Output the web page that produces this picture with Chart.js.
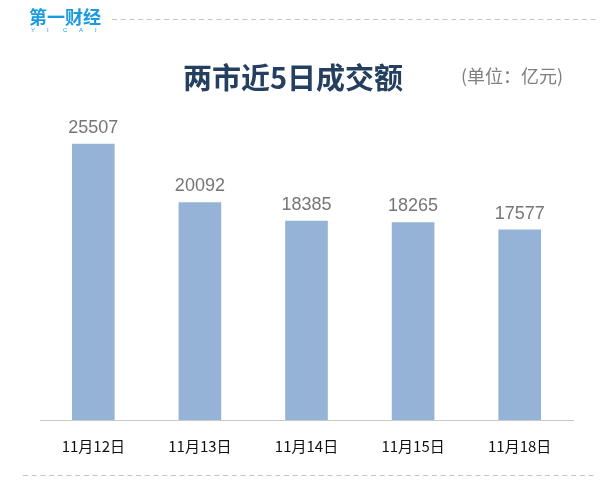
<!DOCTYPE html>
<html lang="zh">
<head>
    <meta charset="UTF-8">
    <title>两市近5日成交额</title>
    <script src="https://cdn.jsdelivr.net/npm/chart.js"></script>
    <style>
        html, body { margin: 0; padding: 0; background: #fff; }
        #wrap { width: 616px; height: 490px; }
    </style>
</head>
<body>
    <div id="wrap"><canvas id="chartVolumen"></canvas></div>

    <script>
        // 数据
        const fechas = ['11月12日', '11月13日', '11月14日', '11月15日', '11月18日'];
        const montos = [25507, 20092, 18385, 18265, 17577];
        const titulo = '两市近5日成交额';
        const unidad = '(单位：亿元)';

        const cjk = '"Noto Sans CJK SC", "Microsoft YaHei", sans-serif';

        // logo, titulo, lineas punteadas y etiquetas de valor
        const decoracion = {
            id: 'decoracion',
            afterDraw(chart) {
                const ctx = chart.ctx;
                ctx.save();

                // logo
                ctx.fillStyle = '#1a9be0';
                ctx.font = 'bold 18px ' + cjk;
                ctx.textBaseline = 'middle';
                ctx.textAlign = 'left';
                ctx.fillText('第一财经', 29, 17);
                ctx.font = '6px "Liberation Sans", Arial, sans-serif';
                const letras = 'YICAI';
                for (let i = 0; i < letras.length; i++) {
                    ctx.fillText(letras[i], 31 + i * 16, 30);
                }

                // lineas punteadas
                ctx.strokeStyle = '#c4c4c4';
                ctx.lineWidth = 1;
                ctx.setLineDash([5, 3.7]);
                ctx.beginPath();
                ctx.moveTo(112, 19.5);
                ctx.lineTo(596, 19.5);
                ctx.moveTo(23, 475.5);
                ctx.lineTo(596, 475.5);
                ctx.stroke();
                ctx.setLineDash([]);

                // titulo
                ctx.fillStyle = '#243f60';
                ctx.font = 'bold 29px ' + cjk;
                ctx.textAlign = 'center';
                ctx.fillText(titulo, 293, 78);

                ctx.fillStyle = '#7f7f7f';
                ctx.font = '18px ' + cjk;
                ctx.textAlign = 'left';
                ctx.fillText(unidad, 461, 76);

                // etiquetas de valor
                ctx.fillStyle = '#767676';
                ctx.font = '18px "Liberation Sans", Arial, sans-serif';
                ctx.textAlign = 'center';
                const meta = chart.getDatasetMeta(0);
                meta.data.forEach((barra, i) => {
                    ctx.fillText(String(montos[i]), barra.x, barra.y - 16);
                });

                ctx.restore();
            }
        };

        const ctx = document.getElementById('chartVolumen').getContext('2d');
        new Chart(ctx, {
            type: 'bar',
            data: {
                labels: fechas,
                datasets: [{
                    label: '成交额',
                    data: montos,
                    backgroundColor: '#95b3d7',
                    barPercentage: 0.4,
                    categoryPercentage: 1
                }]
            },
            options: {
                responsive: true,
                maintainAspectRatio: false,
                animation: false,
                layout: { padding: { left: 40, right: 43, top: 95, bottom: 18 } },
                plugins: {
                    legend: { display: false },
                    tooltip: { enabled: false }
                },
                scales: {
                    x: {
                        grid: { display: false, drawTicks: false },
                        border: { display: true, color: '#c8c8c8', width: 1 },
                        ticks: {
                            color: '#111',
                            padding: 17,
                            font: { size: 15, family: cjk }
                        }
                    },
                    y: {
                        display: false,
                        min: 0,
                        max: 30000
                    }
                }
            },
            plugins: [decoracion]
        });
    </script>
</body>
</html>
